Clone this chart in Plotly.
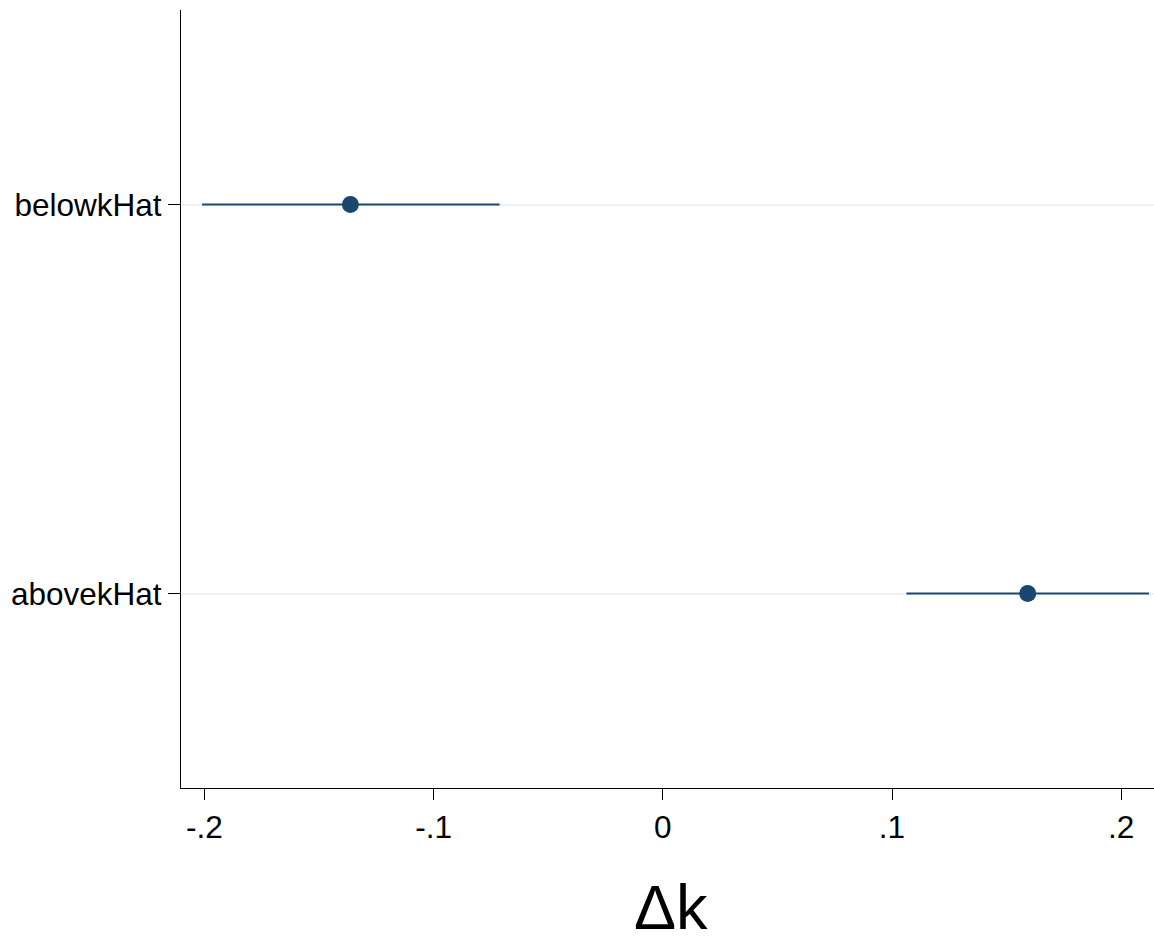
import plotly.graph_objects as go

# Data
categories = ["abovekHat", "belowkHat"]
positions = [0, 1]
estimates = [0.1592, -0.1363]
ci_low = [0.1063, -0.2010]
ci_high = [0.2121, -0.0712]
x_tickvals = [-0.2, -0.1, 0, 0.1, 0.2]
x_ticktext = ["-.2", "-.1", "0", ".1", ".2"]

navy = "#1a476f"
font_family = "Liberation Sans, Arial, Helvetica, sans-serif"

fig = go.Figure()
fig.add_trace(go.Scatter(
    x=estimates,
    y=positions,
    mode="markers",
    marker=dict(color=navy, size=17, line=dict(width=0)),
    error_x=dict(
        type="data",
        symmetric=False,
        array=[h - e for h, e in zip(ci_high, estimates)],
        arrayminus=[e - l for e, l in zip(estimates, ci_low)],
        color=navy,
        thickness=2.2,
        width=0,
    ),
    showlegend=False,
))

fig.update_layout(
    width=1154,
    height=941,
    margin=dict(l=181, r=0, t=10, b=153),
    paper_bgcolor="white",
    plot_bgcolor="white",
    font=dict(family=font_family, size=31.5, color="black"),
    xaxis=dict(
        range=[-0.2102, 0.2143],
        tickvals=x_tickvals,
        ticktext=x_ticktext,
        showgrid=False,
        zeroline=False,
        showline=True,
        linecolor="black",
        linewidth=1.2,
        ticks="outside",
        ticklen=11,
        tickwidth=1.2,
        tickcolor="black",
        tickfont=dict(size=31.5),
    ),
    yaxis=dict(
        range=[-0.5, 1.5],
        tickvals=positions,
        ticktext=categories,
        showgrid=True,
        gridcolor="#eaf2f3",
        gridwidth=2,
        zeroline=False,
        showline=True,
        linecolor="black",
        linewidth=1.2,
        ticks="outside",
        ticklen=12,
        tickwidth=1.2,
        tickcolor="black",
        tickfont=dict(size=31.5),
        ticklabelstandoff=0,
    ),
    annotations=[dict(
        text="Δk",
        xref="paper", yref="paper",
        x=(671 - 181) / 973, y=(788 - 907) / 778,
        xanchor="center", yanchor="middle",
        showarrow=False,
        font=dict(size=63, family=font_family, color="black"),
    )],
)

fig.write_html("out.html")
